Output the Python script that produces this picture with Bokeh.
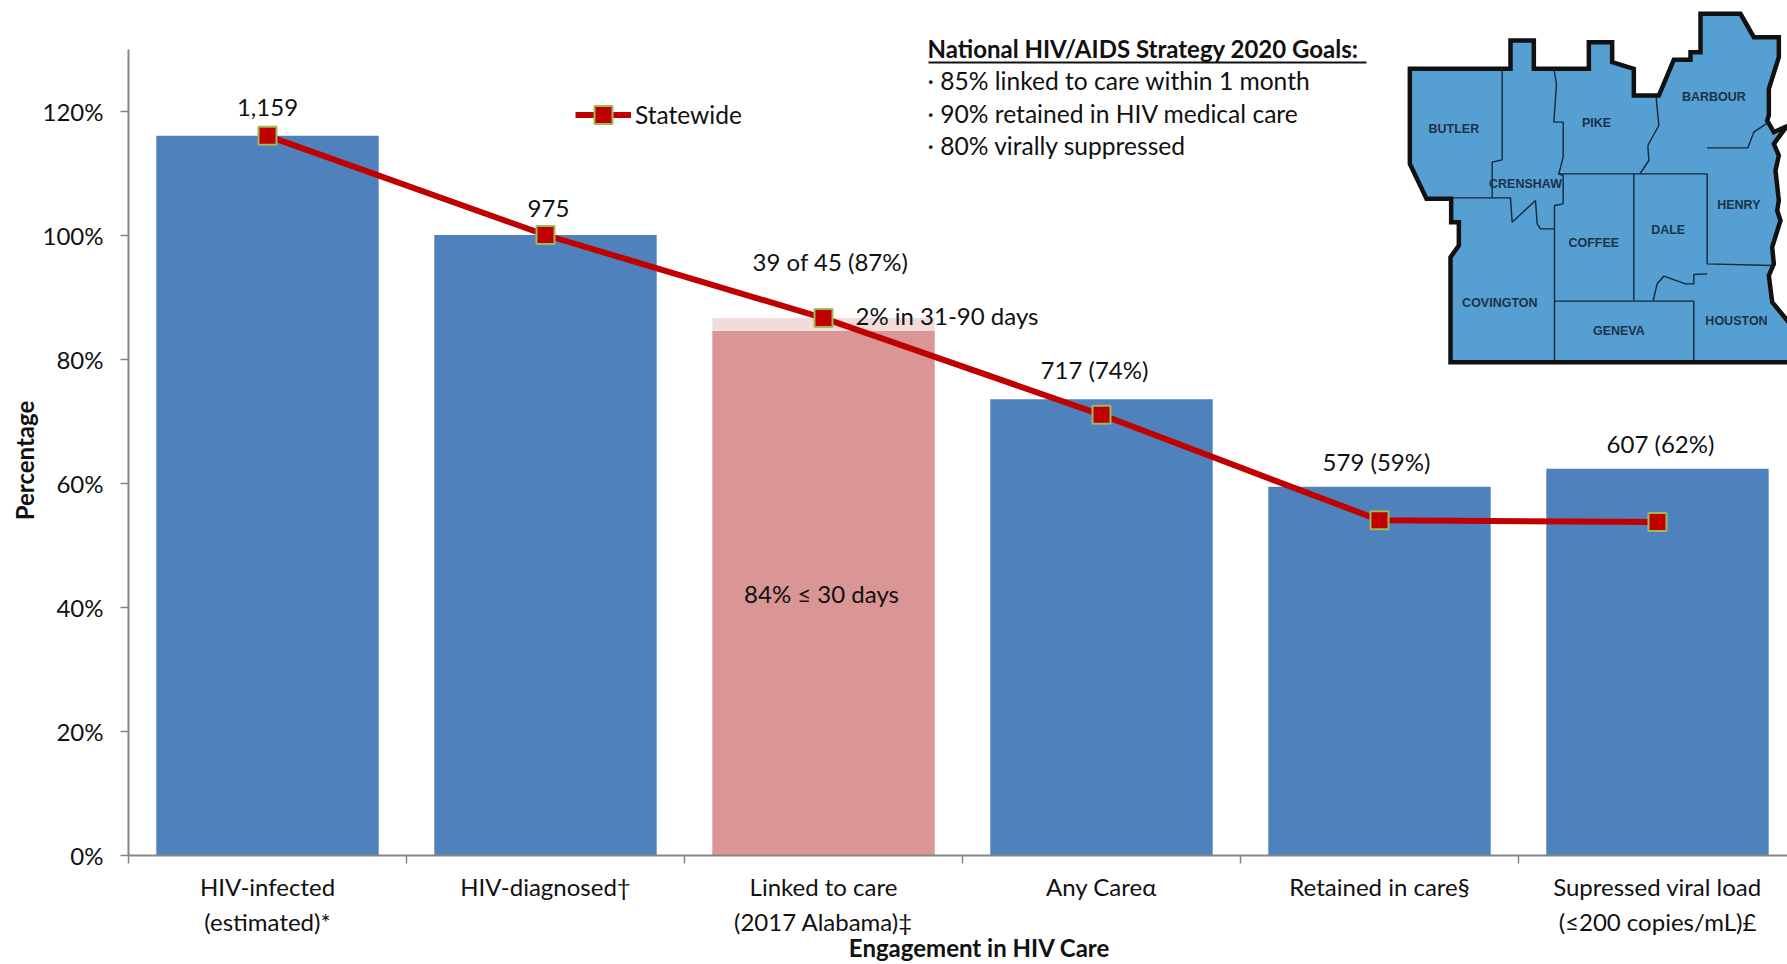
from bokeh.plotting import figure
from bokeh.models import (Range1d, FixedTicker, LinearAxis, Label, Legend, LegendItem,
                          PrintfTickFormatter)
from bokeh.embed import file_html
from bokeh.resources import INLINE
from bokeh.core.properties import value

# ---------- data ----------
categories = ["HIV-infected\n(estimated)*", "HIV-diagnosed\u2020", "Linked to care\n(2017 Alabama)\u2021",
              "Any Care\u03b1", "Retained in care\u00a7", "Supressed viral load\n(\u2264200 copies/mL)\u00a3"]
bar_values = [116.0, 100.0, 84.5, 73.5, 59.4, 62.3]
bar_colors = ["#4F81BD", "#4F81BD", "#D99694", "#4F81BD", "#4F81BD", "#4F81BD"]
linked_extra = 2.1
statewide = [116.0, 100.0, 86.6, 71.0, 54.0, 53.7]
value_labels = ["1,159", "975", "39 of 45 (87%)", "717 (74%)", "579 (59%)", "607 (62%)"]

# map shapes, in reference pixels of a 1191 wide sketch
map_outline_x = [58,360,360,430,430,595,595,665,665,730,730,805,850,900,900,930,930,1050,1090,1165,1165,1135,1135,1130,1150,1188,1150,1165,1155,1165,1160,1170,1145,1150,1135,1145,1240,1240,180,180,205,205,182,182,108,58]
map_outline_y = [205,205,120,120,205,205,125,125,185,205,285,285,178,178,155,155,40,40,110,110,170,265,345,360,395,378,430,465,510,600,630,660,740,790,825,905,1020,1085,1085,770,735,665,665,595,595,490]
map_lines = [
    ([335,335,305,305], [205,478,485,590]),
    ([185,360,365,435,440,450,492], [592,592,665,600,670,685,685]),
    ([490,498,490,518,518,505,518,518,492,492], [205,250,365,365,470,520,525,610,615,1080]),
    ([503,950], [520,520]),
    ([797,805,772,775,748], [290,375,435,480,520]),
    ([730,730], [520,900]),
    ([950,950,1145], [520,790,795]),
    ([950,1072,1090,1130], [442,442,395,368]),
    ([492,910,910], [902,902,1080]),
    ([788,800,820,885,910,910,950], [900,850,827,850,850,822,820]),
]
map_names = ["BUTLER","CRENSHAW","PIKE","BARBOUR","HENRY","COFFEE","DALE","COVINGTON","GENEVA","HOUSTON"]
map_name_x = [190,405,618,970,1045,610,833,328,685,1038]
map_name_y = [385,551,367,290,614,728,688,907,990,961]

goal_title = "National HIV/AIDS Strategy 2020 Goals:"
goal_items = ["\u00b7 85% linked to care within 1 month", "\u00b7 90% retained in HIV medical care", "\u00b7 80% virally suppressed"]

# ---------- layout (page pixels) ----------
W, H = 1787, 964
L, B = 128, 854.5
cat_px = 278.0
pct_px = 6.2
FONT = "Lato"

p = figure(width=W, height=H, output_backend="svg", toolbar_location=None,
           x_range=Range1d(-L / cat_px, (W - L) / cat_px), y_range=Range1d((B - H) / pct_px, B / pct_px),
           min_border_left=0, min_border_right=0, min_border_top=0, min_border_bottom=0,
           x_axis_type=None, y_axis_type=None)
p.grid.visible = False
p.outline_line_color = None
p.background_fill_color = None
p.border_fill_color = "white"

# helper ranges in page pixels for free-standing annotations
p.extra_x_ranges["px"] = Range1d(0, W)
p.extra_y_ranges["px"] = Range1d(H, 0)

xc = [i + 0.5 for i in range(6)]

yax = LinearAxis(ticker=FixedTicker(ticks=list(range(0, 121, 20))),
                 formatter=PrintfTickFormatter(format="%d%%"), bounds=(0, 130), fixed_location=0)
yax.axis_line_color = "#868686"; yax.axis_line_width = 2
yax.major_tick_in = 0; yax.major_tick_out = 8
yax.major_tick_line_color = "#868686"; yax.major_tick_line_width = 1.5
yax.minor_tick_line_color = None
yax.major_label_standoff = 17
yax.major_label_text_font = FONT; yax.major_label_text_font_size = "24px"; yax.major_label_text_color = "#111111"
p.add_layout(yax, "left")

xax = LinearAxis(ticker=FixedTicker(ticks=xc, minor_ticks=list(range(0, 7))),
                 major_label_overrides={x: c for x, c in zip(xc, categories)}, bounds=(0, 6), fixed_location=0)
xax.axis_line_color = "#868686"; xax.axis_line_width = 2
xax.major_tick_in = 0; xax.major_tick_out = 0
xax.major_tick_line_color = None
xax.minor_tick_in = 0; xax.minor_tick_out = 8
xax.minor_tick_line_color = "#868686"; xax.minor_tick_line_width = 1.5
xax.major_label_standoff = 9
xax.major_label_text_font = FONT; xax.major_label_text_font_size = "24px"; xax.major_label_text_color = "#111111"
p.add_layout(xax, "below")

# bars
p.vbar(x=xc, top=bar_values, width=0.8, color=bar_colors, line_color=None)
p.vbar(x=[xc[2]], bottom=[bar_values[2]], top=[bar_values[2] + linked_extra], width=0.8,
       color="#F2DCDB", line_color=None)

# map
MX, MY = 1390, 0
def mx(v): return [a / 3 + MX for a in v]
def my(v): return [a / 3 + MY for a in v]
p.patch(mx(map_outline_x), my(map_outline_y), fill_color="#559FD2", line_color="#111111", line_width=4.5,
        line_join="miter", x_range_name="px", y_range_name="px")
for lx, ly in map_lines:
    p.line(mx(lx), my(ly), line_color="#14273A", line_width=1.4, x_range_name="px", y_range_name="px")
p.text(mx(map_name_x), my(map_name_y), text=map_names, text_align="center", text_baseline="middle",
       text_font=value("Liberation Sans"), text_font_size="12.5px", text_font_style="bold",
       text_color="#1D3148", x_range_name="px", y_range_name="px")

# statewide line
line_r = p.line(xc, statewide, line_color="#C00000", line_width=6)
mark_r = p.scatter(xc, statewide, marker="square", size=18, fill_color="#C00000",
                   line_color="#9BBB59", line_width=2)

legend = Legend(items=[LegendItem(label="Statewide", renderers=[line_r, mark_r])],
                location=(575, 827), orientation="vertical", border_line_color=None,
                background_fill_color=None, padding=0, margin=0, spacing=0,
                glyph_width=56, glyph_height=45, label_standoff=4,
                label_text_font=FONT, label_text_font_size="24.5px", label_text_color="#111111")
p.add_layout(legend, "center")

def note(x, y, text, size="24px", style="normal", align="center", angle=0, color="#111111"):
    p.add_layout(Label(x=x, y=y, text=text, x_range_name="px", y_range_name="px",
                       text_font=FONT, text_font_size=size, text_font_style=style, text_color=color,
                       text_align=align, text_baseline="middle", angle=angle))

# value labels above the bars
for i, s in enumerate(value_labels):
    lab_x = [267, 548, 830, 1094, 1376, 1660][i]
    lab_y = [107, 208, 261, 369, 461, 443][i]
    note(lab_x, lab_y, s)

note(855, 315, "2% in 31-90 days", align="left")
note(821, 593, "84% \u2264 30 days")

# goals box
note(927, 48, goal_title, style="bold", align="left")
p.line([928, 1366], [62, 62], line_color="#111111", line_width=2, x_range_name="px", y_range_name="px")
for s, y in zip(goal_items, [80, 113, 145]):
    note(927, y, s, size="24.6px", align="left")

# axis titles
note(979, 947, "Engagement in HIV Care", style="bold")
note(24, 460, "Percentage", style="bold", angle=1.5708)

open("out.html", "w").write(file_html(p, INLINE))
